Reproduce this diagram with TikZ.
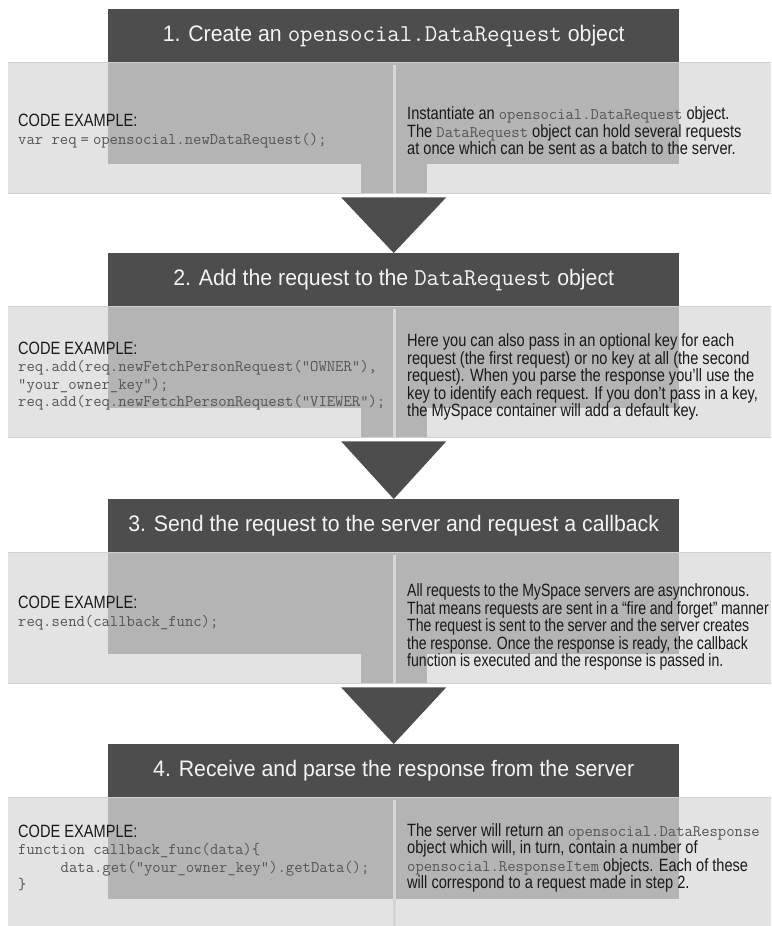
\documentclass[tikz,border=0pt]{standalone}
\usepackage{fontspec}
\setmainfont{Liberation Sans}
\newfontfamily\narrowfont{Liberation Sans}[FakeStretch=0.82]
\newfontfamily\narrowerfont{Liberation Sans}[FakeStretch=0.79]
\newfontfamily\headfont{Liberation Sans}[FakeStretch=0.95]
\usetikzlibrary{positioning,calc}

\definecolor{headgray}{HTML}{4D4D4D}
\definecolor{bandgray}{HTML}{E3E3E3}
\definecolor{panelgray}{HTML}{B4B4B4}
\definecolor{seamgray}{HTML}{D6D6D6}
\definecolor{rimgray}{HTML}{D0D0D0}
\definecolor{codegray}{HTML}{555555}
\definecolor{headtext}{HTML}{F4F4F4}

\newcommand{\code}[1]{{\color{codegray}\fontsize{16.2}{17.5}\ttfamily #1}}
\newcommand{\hcode}[1]{{\fontsize{24.2}{25}\ttfamily #1}}
\newcommand{\tightspace}{\spaceskip=0.2em\relax}

\tikzstyle{header} = [fill=headgray, text=headtext, minimum width=571pt, minimum height=53pt, inner sep=0pt, anchor=north west, font=\headfont\fontsize{22.4}{25}\selectfont]
\tikzstyle{band} = [fill=bandgray, minimum width=763pt, minimum height=132pt, inner sep=0pt, anchor=north west]
\tikzstyle{panel} = [fill=panelgray]
\tikzstyle{seam} = [fill=seamgray]
\tikzstyle{rim} = [draw=rimgray, line width=1pt]
\tikzstyle{arrowhead} = [fill=headgray]
\tikzstyle{lefttext} = [anchor=west, align=left, inner sep=0pt, text=black!90, font=\narrowfont\fontsize{17.8}{17.5}\selectfont]
\tikzstyle{righttext} = [lefttext]
\tikzstyle{tightright} = [righttext, font=\narrowerfont\fontsize{17.8}{17.5}\selectfont\tightspace]

\begin{document}
\begin{tikzpicture}[x=1pt, y=-1pt]
    \useasboundingbox (0,0) rectangle (771,926);
    %% headers
    \node[header] (h1) at (108,9) {1. Create an \hcode{opensocial.DataRequest} object};
    \node[header] (h2) at (108,253) {2. Add the request to the \hcode{DataRequest} object};
    \node[header] (h3) at (108,499) {3. Send the request to the server and request a callback};
    \node[header] (h4) at (108,744) {4. Receive and parse the response from the server};
    %% bands, panels and stems
    \foreach \n/\top in {1/9, 2/253, 3/499, 4/744}
    {
      \node[band] (b\n) at (8,\top+53) {};
      \fill[panel] (108,\top+53) rectangle (679,\top+155);
      \ifnum\n<4
        \fill[panel] (361,\top+155) rectangle (427,\top+185);
        \draw[rim] (8,\top+184.5) -- (771,\top+184.5);
      \fi
      \draw[rim] (8,\top+53.5) -- (771,\top+53.5);
      \fill[seam] (392.5,\top+56) rectangle (395.5,\top+185);
    }
    %% arrows between the steps
    \foreach \n/\m in {1/2, 2/3, 3/4}
    {
      \fill[arrowhead] ($(b\n.south -| h\m.north)+(-52.5,3)$) -- ($(b\n.south -| h\m.north)+(52.5,3)$) -- (h\m.north) -- cycle;
    }
    %% texts
    \node[lefttext] (l1) at (18,131) {CODE EXAMPLE:\\
      \code{var req\hspace{0.25em}=\hspace{0.25em}opensocial.newDataRequest();}};
    \node[righttext] (r1) at (407,131) {Instantiate an \code{opensocial.DataRequest} object.\\
      The \code{DataRequest} object can hold several requests\\
      at once which can be sent as a batch to the server.};
    \node[lefttext] (l2) at (18,376) {CODE EXAMPLE:\\
      \code{req.add(req.newFetchPersonRequest("OWNER"),}\\
      \code{"your\_owner\_key");}\\
      \code{req.add(req.newFetchPersonRequest("VIEWER");}};
    \node[righttext] (r2) at (407,377) {Here you can also pass in an optional key for each\\
      request (the first request) or no key at all (the second\\
      request). When you parse the response you’ll use the\\
      key to identify each request. If you don’t pass in a key,\\
      the MySpace container will add a default key.};
    \node[lefttext] (l3) at (18,613) {CODE EXAMPLE:\\
      \code{req.send(callback\_func);}};
    \node[tightright] (r3) at (407,627) {All requests to the MySpace servers are asynchronous.\\
      That means requests are sent in a “fire and forget” manner\\
      The request is sent to the server and the server creates\\
      the response. Once the response is ready, the callback\\
      function is executed and the response is passed in.};
    \node[lefttext] (l4) at (18,858) {CODE EXAMPLE:\\
      \code{function callback\_func(data)\{}\\
      \code{\hspace*{2.625em}data.get("your\_owner\_key").getData();}\\
      \code{\}}};
    \node[righttext] (r4) at (407,858) {The server will return an \code{opensocial.DataResponse}\\
      object which will, in turn, contain a number of\\
      \code{opensocial.ResponseItem} objects. Each of these\\
      will correspond to a request made in step 2.};
\end{tikzpicture}
\end{document}
